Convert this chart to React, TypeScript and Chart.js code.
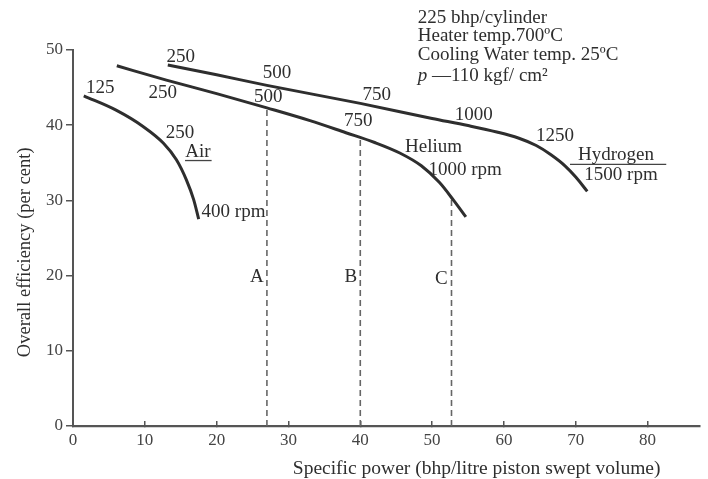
import React, { useEffect, useRef } from "react";
import { Chart, registerables } from "chart.js";

Chart.register(...registerables);

// Curves: specific power (x) vs overall efficiency (y)
const airX = [1.5, 6.0, 9.8, 12.6, 14.4, 15.8, 16.8, 17.5];
const airY = [43.9, 42.0, 39.8, 37.6, 35.4, 32.7, 30.1, 27.5];
const heliumX = [6.1, 13.0, 20.0, 27.0, 33.0, 38.0, 42.0, 45.5, 48.5, 51.0, 53.0, 54.7];
const heliumY = [47.9, 46.0, 44.2, 42.3, 40.6, 39.0, 37.7, 36.3, 34.6, 32.4, 30.0, 27.8];
const hydrogenX = [13.2, 20, 27, 40, 50, 55, 59, 62, 64.5, 66.5, 68.5, 70.0, 71.6];
const hydrogenY = [48.0, 46.7, 45.3, 42.9, 40.9, 39.95, 39.1, 38.3, 37.3, 36.1, 34.6, 33.1, 31.2];

// Vertical dashed markers A, B, C
const markerNames = ["A", "B", "C"];
const markerX = [27, 40, 52.7];
const markerTop = [42.3, 38.4, 30.3];
const markerLabelX = [25.6, 38.7, 51.3];
const markerLabelY = [19.8, 19.8, 19.5];

// Underlines for gas names
const airUnderlineX = [15.6, 19.3];
const airUnderlineY = [35.3, 35.3];
const hydUnderlineX = [69.2, 82.6];
const hydUnderlineY = [34.8, 34.8];

// Curve annotations (data coordinates)
const labelText = ["250", "500", "750", "1000", "1250", "Hydrogen", "1500 rpm",
  "125", "250", "500", "750", "Helium", "1000 rpm", "250", "Air"];
const labelX = [15.0, 28.4, 42.3, 55.8, 67.1, 75.6, 76.3, 3.8, 12.5, 27.2, 39.7, 50.2, 54.6, 14.9, 17.4];
const labelY = [49.1, 46.9, 44.0, 41.4, 38.6, 36.0, 33.4, 44.9, 44.3, 43.8, 40.5, 37.1, 34.0, 38.9, 36.4];

const rpmAirText = "400 rpm";
const rpmAirX = 17.9;
const rpmAirY = 28.4;

// Operating conditions text block
const conditionLines = ["225 bhp/cylinder", "Heater temp.700ºC", "Cooling Water temp. 25ºC"];
const conditionX = 48.0;
const conditionY = [54.3, 51.8, 49.3, 46.6];
const pressureText = " —110 kgf/ cm²";

const xTitle = "Specific power (bhp/litre piston swept volume)";
const xTitleCenter = 56.2;
const yTitle = "Overall efficiency (per cent)";
const yTitleCenter = 23.1;

const xMin = 0;
const xMax = 87.3;
const yMin = 0;
const yMax = 50;

const SERIF = '"Liberation Serif", "DejaVu Serif", serif';
const INK = "#2e2e2e";

function pts(xs: number[], ys: number[]) {
  return xs.map((x, i) => ({ x, y: ys[i] }));
}

const labelPlugin = {
  id: "annotLabels",
  afterDraw(chart: any) {
    const { ctx, scales } = chart;
    const x = scales.x;
    const y = scales.y;
    ctx.save();
    ctx.fillStyle = INK;
    ctx.textBaseline = "middle";
    ctx.font = `19px ${SERIF}`;
    ctx.textAlign = "center";
    labelText.forEach((t, i) => {
      ctx.fillText(t, x.getPixelForValue(labelX[i]), y.getPixelForValue(labelY[i]));
    });
    ctx.textAlign = "left";
    ctx.fillText(rpmAirText, x.getPixelForValue(rpmAirX), y.getPixelForValue(rpmAirY));
    ctx.textAlign = "center";
    markerNames.forEach((t, i) => {
      ctx.fillText(t, x.getPixelForValue(markerLabelX[i]), y.getPixelForValue(markerLabelY[i]));
    });
    // conditions
    ctx.textAlign = "left";
    const cx = x.getPixelForValue(conditionX);
    conditionLines.forEach((t, i) => {
      ctx.fillText(t, cx, y.getPixelForValue(conditionY[i]));
    });
    const py = y.getPixelForValue(conditionY[3]);
    ctx.font = `italic 19px ${SERIF}`;
    ctx.fillText("p", cx, py);
    const pw = ctx.measureText("p").width;
    ctx.font = `19px ${SERIF}`;
    ctx.fillText(pressureText, cx + pw, py);
    // axis titles
    ctx.font = `19.5px ${SERIF}`;
    ctx.textAlign = "center";
    ctx.fillText(xTitle, x.getPixelForValue(xTitleCenter), y.bottom + 43);
    ctx.translate(25, y.getPixelForValue(yTitleCenter));
    ctx.rotate(-Math.PI / 2);
    ctx.font = `18.5px ${SERIF}`;
    ctx.fillText(yTitle, 0, 0);
    ctx.restore();
  },
};

export default function App() {
  const ref = useRef<HTMLCanvasElement | null>(null);
  useEffect(() => {
    document.body.style.margin = "0";
    if (!ref.current) return;
    const curve = (data: any[]) => ({
      data,
      borderColor: INK,
      borderWidth: 3,
      pointRadius: 0,
      fill: false,
      cubicInterpolationMode: "monotone" as const,
    });
    const datasets: any[] = [
      curve(pts(airX, airY)),
      curve(pts(heliumX, heliumY)),
      curve(pts(hydrogenX, hydrogenY)),
      ...markerX.map((mx, i) => ({
        data: [{ x: mx, y: 0 }, { x: mx, y: markerTop[i] }],
        borderColor: "#666",
        borderWidth: 1.6,
        borderDash: [6, 4],
        pointRadius: 0,
      })),
      {
        data: pts(airUnderlineX, airUnderlineY),
        borderColor: "#444",
        borderWidth: 1.3,
        pointRadius: 0,
      },
      {
        data: pts(hydUnderlineX, hydUnderlineY),
        borderColor: "#444",
        borderWidth: 1.3,
        pointRadius: 0,
      },
    ];
    const chart = new Chart(ref.current, {
      type: "line",
      data: { datasets },
      plugins: [labelPlugin],
      options: {
        animation: false,
        responsive: false,
        layout: { padding: { top: 50, right: 8, left: 0, bottom: 0 } },
        plugins: { legend: { display: false }, tooltip: { enabled: false } },
        scales: {
          x: {
            type: "linear",
            min: xMin,
            max: xMax,
            afterFit: (s: any) => { s.height = 53; },
            ticks: {
              stepSize: 10,
              includeBounds: false,
              color: "#444",
              font: { family: SERIF, size: 17 },
              padding: 9,
              maxRotation: 0,
            },
            grid: { display: true, drawOnChartArea: false, drawTicks: true, tickLength: -5, color: "#555", lineWidth: 1.5 },
            border: { display: true, color: "#555", width: 2.2 },
          },
          y: {
            type: "linear",
            min: yMin,
            max: yMax,
            afterFit: (s: any) => { s.width = 73; },
            ticks: {
              stepSize: 10,
              color: "#444",
              font: { family: SERIF, size: 17 },
              padding: 3,
            },
            grid: { display: true, drawOnChartArea: false, drawTicks: true, tickLength: 7, color: "#555", lineWidth: 1.5 },
            border: { display: true, color: "#555", width: 2 },
          },
        },
      },
    });
    return () => chart.destroy();
  }, []);
  return (
    <div style={{ position: "fixed", left: 0, top: 0, width: 708, height: 479, background: "#fff" }}>
      <canvas ref={ref} width={708} height={479} style={{ width: 708, height: 479 }} />
    </div>
  );
}
